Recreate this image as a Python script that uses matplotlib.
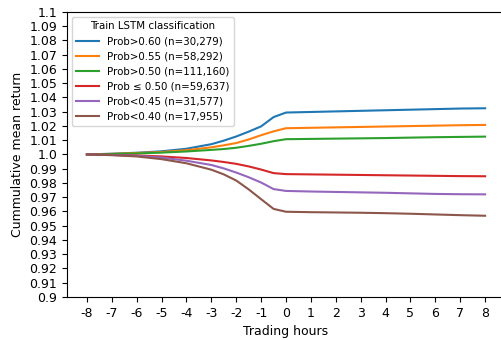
import numpy as np
import matplotlib.pyplot as plt

# -------------------------------
# Data
# -------------------------------
hours = [-8, -7, -6, -5, -4, -3, -2.5, -2, -1.5, -1, -0.5, 0, 1, 2, 3, 4, 5, 6, 7, 8]

p60 = [1.0, 1.0005, 1.0012, 1.0022, 1.0040, 1.0072, 1.0097, 1.0126, 1.0160, 1.0197, 1.0262, 1.0294,
       1.0298, 1.0302, 1.0306, 1.0310, 1.0314, 1.0318, 1.0322, 1.0324]
p55 = [1.0, 1.0004, 1.0010, 1.0017, 1.0030, 1.0050, 1.0064, 1.0080, 1.0105, 1.0135, 1.0162, 1.0184,
       1.0187, 1.0190, 1.0193, 1.0196, 1.0199, 1.0202, 1.0205, 1.0207]
p50 = [1.0, 1.0003, 1.0007, 1.0013, 1.0021, 1.0032, 1.0038, 1.0047, 1.0060, 1.0075, 1.0093, 1.0107,
       1.0109, 1.0111, 1.0113, 1.0115, 1.0118, 1.0121, 1.0123, 1.0125]
le50 = [1.0, 0.9997, 0.9993, 0.9986, 0.9975, 0.9958, 0.9947, 0.9934, 0.9916, 0.9894, 0.9869, 0.9862,
        0.9860, 0.9858, 0.9856, 0.9854, 0.9852, 0.9850, 0.9848, 0.9847]
lt45 = [1.0, 0.9996, 0.9990, 0.9978, 0.9956, 0.9926, 0.9902, 0.9873, 0.9840, 0.9803, 0.9757, 0.9744,
        0.9740, 0.9737, 0.9734, 0.9731, 0.9727, 0.9723, 0.9721, 0.9720]
lt40 = [1.0, 0.9995, 0.9986, 0.9967, 0.9938, 0.9893, 0.9860, 0.9817, 0.9755, 0.9686, 0.9618, 0.9598,
        0.9595, 0.9593, 0.9591, 0.9588, 0.9584, 0.9579, 0.9574, 0.9570]

series = [p60, p55, p50, le50, lt45, lt40]
labels = ['Prob>0.60 (n=30,279)', 'Prob>0.55 (n=58,292)', 'Prob>0.50 (n=111,160)',
          'Prob ≤ 0.50 (n=59,637)', 'Prob<0.45 (n=31,577)', 'Prob<0.40 (n=17,955)']

yticks = np.round(np.arange(0.90, 1.1001, 0.01), 2)
ytick_labels = ['1.0' if v == 1.0 else ('1.1' if v == 1.1 else ('0.9' if v == 0.9 else f'{v:.2f}'))
                for v in yticks]

# -------------------------------
# Plot
# -------------------------------
fig = plt.figure(figsize=(5.02, 3.40), dpi=100)
ax = fig.add_axes([0.1335, 0.1265, 0.8725, 0.8385])

for s, lab in zip(series, labels):
    ax.plot(hours, s, label=lab, linewidth=1.5)

ax.set_xlim(-8.8, 8.8)
ax.set_ylim(0.9, 1.1)
ax.set_xticks(range(-8, 9))
ax.set_xticklabels([str(h) for h in range(-8, 9)], fontsize=9)
ax.set_yticks(yticks)
ax.set_yticklabels(ytick_labels, fontsize=9)
ax.spines['right'].set_visible(False)

ax.set_xlabel('Trading hours', fontsize=9)
ax.set_ylabel('Cummulative mean return', fontsize=9)
ax.legend(title='Train LSTM classification', loc='upper left', fontsize=7.4, title_fontsize=7.4,
          labelspacing=0.5, handlelength=2.2)

plt.savefig("out.png", dpi=100)
